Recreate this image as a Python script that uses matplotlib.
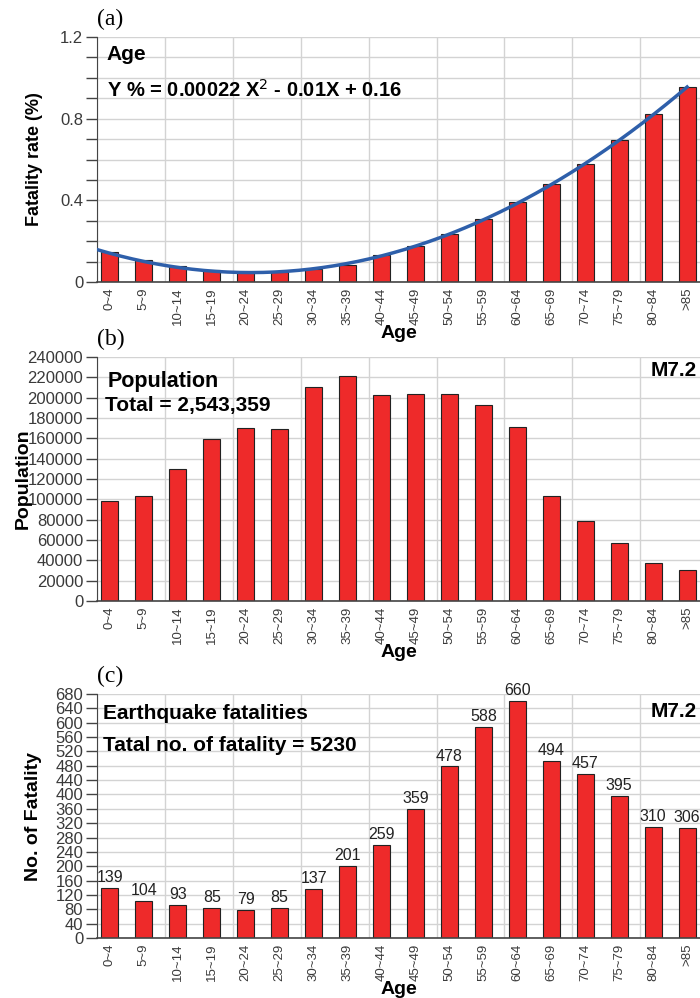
import numpy as np
import matplotlib
matplotlib.use("Agg")
import matplotlib.pyplot as plt

plt.rcParams['font.family'] = ['Liberation Sans', 'DejaVu Sans']

age_groups = ["0~4", "5~9", "10~14", "15~19", "20~24", "25~29", "30~34", "35~39",
              "40~44", "45~49", "50~54", "55~59", "60~64", "65~69", "70~74",
              "75~79", "80~84", ">85"]
fatality_rate = [0.147, 0.108, 0.078, 0.057, 0.047, 0.049, 0.064, 0.085, 0.132,
                 0.178, 0.235, 0.309, 0.390, 0.480, 0.580, 0.696, 0.822, 0.954]
population = [98700, 103600, 129500, 159700, 170200, 168900, 210500, 221000, 202600,
              203300, 203300, 193100, 170800, 103600, 78700, 57000, 37700, 30200]
fatalities = [139, 104, 93, 85, 79, 85, 137, 201, 259, 359, 478, 588, 660, 494,
              457, 395, 310, 306]

# quadratic fit coefficients, X = age
coef = [0.00022, -0.01, 0.16]

BAR = "#EE2A2A"
GRID = "#D3D3D3"
TICK = "#3A3A3A"
x = np.arange(len(age_groups))
xlo, xhi = -0.38, 17.38

fig = plt.figure(figsize=(7, 9.98), dpi=100)


def setup(ax, ymax, step, label_step, ylabel, ylsize, ylx):
    ax.set_xlim(xlo, xhi)
    ax.set_ylim(0, ymax)
    ax.set_yticks(np.arange(0, ymax + step / 2, step))
    labs = []
    for v in np.arange(0, ymax + step / 2, step):
        if abs(v / label_step - round(v / label_step)) < 1e-6:
            labs.append(("%g" % round(v, 6)))
        else:
            labs.append("")
    ax.set_yticklabels(labs)
    ax.yaxis.grid(True, color=GRID, lw=1)
    for gx in np.arange(xlo, xhi, 2.0):
        ax.axvline(gx, color=GRID, lw=1, zorder=0)
    ax.set_axisbelow(True)
    for s in ["top", "right"]:
        ax.spines[s].set_visible(False)
    ax.spines["left"].set_color("#444444")
    ax.spines["bottom"].set_color("#444444")
    ax.spines["bottom"].set_linewidth(1.2)
    ax.tick_params(axis="y", length=8, width=1, color="#444444",
                   labelsize=12, labelcolor=TICK, pad=2)
    ax.tick_params(axis="x", length=0, labelsize=9.5, labelcolor=TICK, pad=4)
    ax.set_xticks(x)
    ax.set_xticklabels(age_groups, rotation=90)
    ax.set_xlabel("Age", fontsize=14, fontweight="bold", labelpad=0)
    ax.set_ylabel(ylabel, fontsize=ylsize, fontweight="bold")
    ax.yaxis.set_label_coords(ylx, 0.5)


# (a) fatality rate with quadratic trend
ax1 = fig.add_axes([0.1386, 0.7174, 0.8614, 0.2455])
ax1.bar(x, fatality_rate, width=0.5, color=BAR, edgecolor="#222222", lw=0.8, zorder=2)
xs = np.linspace(xlo, 17, 200)
ages = 5 * xs + 2
ax1.plot(xs, np.polyval(coef, ages), color="#2E5FAA", lw=2.5, zorder=3)
setup(ax1, 1.2, 0.1, 0.4, "Fatality rate (%)", 13, -0.09)
ax1.text(0.016, 0.93, "Age", transform=ax1.transAxes, fontsize=15, fontweight="bold", va="center")
ax1.text(0.016, 0.785, "Y % = 0.00022 X$^2$ - 0.01X + 0.16", transform=ax1.transAxes,
         fontsize=14.5, fontweight="bold", va="center")
fig.text(0.138, 0.981, "(a)", family="Liberation Serif", fontsize=17, va="center")

# (b) population by age
ax2 = fig.add_axes([0.1386, 0.3978, 0.8614, 0.2445])
ax2.bar(x, population, width=0.5, color=BAR, edgecolor="#222222", lw=0.8, zorder=2)
setup(ax2, 240000, 20000, 20000, "Population", 14, -0.108)
ax2.text(0.018, 0.9, "Population", transform=ax2.transAxes,
         fontsize=15.5, fontweight="bold", va="center")
ax2.text(0.013, 0.8, "Total = 2,543,359", transform=ax2.transAxes, fontsize=15,
         fontweight="bold", va="center")
ax2.text(0.995, 0.945, "M7.2", transform=ax2.transAxes, fontsize=15, fontweight="bold",
         va="center", ha="right")
fig.text(0.138, 0.660, "(b)", family="Liberation Serif", fontsize=17, va="center")

# (c) fatalities by age
ax3 = fig.add_axes([0.1386, 0.0601, 0.8614, 0.2445])
ax3.bar(x, fatalities, width=0.5, color=BAR, edgecolor="#222222", lw=0.8, zorder=2)
for xi, v in zip(x, fatalities):
    ax3.text(xi, v + 8, str(v), ha="center", va="bottom", fontsize=11.5, color="#222222")
setup(ax3, 680, 40, 40, "No. of Fatality", 14, -0.092)
ax3.text(0.01, 0.92, "Earthquake fatalities", transform=ax3.transAxes, fontsize=15,
         fontweight="bold", va="center")
ax3.text(0.01, 0.79, "Tatal no. of fatality = 5230", transform=ax3.transAxes, fontsize=15,
         fontweight="bold", va="center")
ax3.text(0.995, 0.93, "M7.2", transform=ax3.transAxes, fontsize=15, fontweight="bold",
         va="center", ha="right")
fig.text(0.138, 0.322, "(c)", family="Liberation Serif", fontsize=17, va="center")

fig.savefig("out.png", dpi=100)
